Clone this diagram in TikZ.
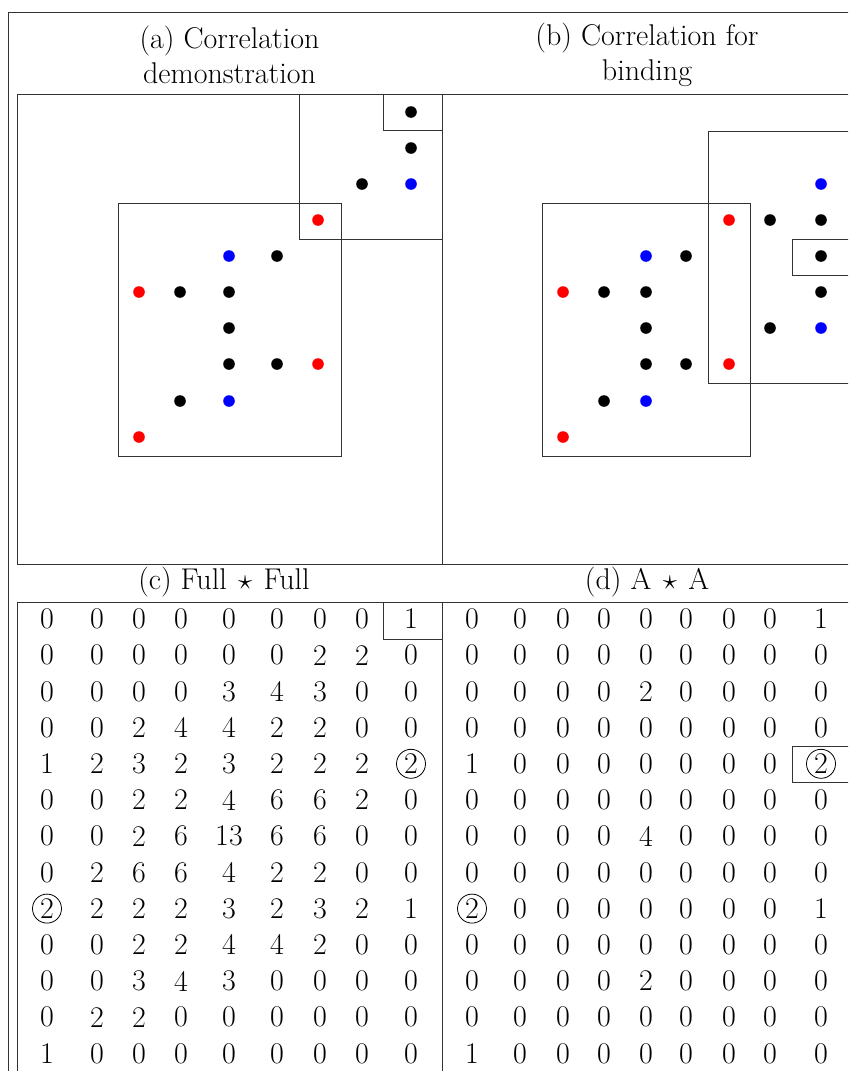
\documentclass[tikz,border=0pt]{standalone}
\usepackage{amssymb}
\usetikzlibrary{positioning}
\begin{document}
\begin{tikzpicture}[
        x=0.5pt, y=-0.5pt,
        font=\fontsize{15}{17.5}\selectfont,
        frm/.style={draw=black!80, line width=0.45pt},
        pnt/.style={circle, inner sep=0pt, minimum size=5.8pt},
        captxt/.style={align=center, inner sep=0pt},
        num/.style={inner sep=0pt},
        ring/.style={draw, circle, inner sep=0pt, minimum size=14.5pt}
    ]
    \clip (0,0) rectangle (848,1071);
    % frames
    \draw[frm] (8,1090) -- (8,12) -- (880,12);
    \draw[frm] (17,94) rectangle (880,564);
    \draw[frm] (442,94) -- (442,564);
    \draw[frm] (17,1090) -- (17,602) -- (880,602);
    \draw[frm] (442,602) -- (442,1090);
    % captions
    \node[captxt] (capA) at (229.5,55) {(a) Correlation\\demonstration};
    \node[captxt] (capB) at (647,55) {(b) Correlation for\\binding};
    \node[captxt] (capC) at (224,582) {(c) Full\,${}\star{}$\,Full};
    \node[captxt] (capD) at (647,582) {(d) A\,${}\star{}$\,A};
    % dots (a)
    \foreach \x/\y/\col [count=\i] in {411/112/black, 411/148/black, 362/184/black, 411/184/blue,
        318/220/red, 229/256/blue, 277/256/black, 139/292/red, 180/292/black, 229/292/black,
        229/328/black, 229/364/black, 277/364/black, 318/364/red, 180/401/black, 229/401/blue,
        139/437/red}
        \node[pnt, fill=\col] (a\i) at (\x,\y) {};
    \draw[frm] (118,203) rectangle (341,456);
    \draw[frm] (299,94) rectangle (442,239);
    \draw[frm] (383,94) rectangle (442,130);
    % dots (b)
    \foreach \x/\y/\col [count=\i] in {821/184/blue, 729/220/red, 770/220/black, 821/220/black,
        646/256/blue, 686/256/black, 821/256/black, 563/292/red, 604/292/black, 646/292/black,
        821/292/black, 646/328/black, 770/328/black, 821/328/blue, 646/364/black, 686/364/black,
        729/364/red, 604/401/black, 646/401/blue, 563/437/red}
        \node[pnt, fill=\col] (b\i) at (\x,\y) {};
    \draw[frm] (542,203) rectangle (750,456);
    \draw[frm] (708,131) rectangle (880,383);
    \draw[frm] (792,239) rectangle (880,275);
    % table (c)
    \foreach \row [count=\r] in {{0,0,0,0,0,0,0,0,1},{0,0,0,0,0,0,2,2,0},{0,0,0,0,3,4,3,0,0},
        {0,0,2,4,4,2,2,0,0},{1,2,3,2,3,2,2,2,2},{0,0,2,2,4,6,6,2,0},{0,0,2,6,13,6,6,0,0},
        {0,2,6,6,4,2,2,0,0},{2,2,2,2,3,2,3,2,1},{0,0,2,2,4,4,2,0,0},{0,0,3,4,3,0,0,0,0},
        {0,2,2,0,0,0,0,0,0},{1,0,0,0,0,0,0,0,0}}
        \foreach \v [count=\c] in \row {
            \pgfmathsetmacro{\xx}{{47,97,139,181,229,277,320,362,411}[\c-1]}
            \node[num] (c-\r-\c) at (\xx,{619+(\r-1)*36.2}) {\v};
        }
    % table (d)
    \foreach \row [count=\r] in {{0,0,0,0,0,0,0,0,1},{0,0,0,0,0,0,0,0,0},{0,0,0,0,2,0,0,0,0},
        {0,0,0,0,0,0,0,0,0},{1,0,0,0,0,0,0,0,2},{0,0,0,0,0,0,0,0,0},{0,0,0,0,4,0,0,0,0},
        {0,0,0,0,0,0,0,0,0},{2,0,0,0,0,0,0,0,1},{0,0,0,0,0,0,0,0,0},{0,0,0,0,2,0,0,0,0},
        {0,0,0,0,0,0,0,0,0},{1,0,0,0,0,0,0,0,0}}
        \foreach \v [count=\c] in \row {
            \pgfmathsetmacro{\xx}{{472,520,563,604,646,686,729,770,821}[\c-1]}
            \node[num] (d-\r-\c) at (\xx,{619+(\r-1)*36.2}) {\v};
        }
    \node[ring] (rc1) at (c-5-9) {};
    \node[ring] (rc2) at (c-9-1) {};
    \node[ring] (rd1) at (d-5-9) {};
    \node[ring] (rd2) at (d-9-1) {};
    \draw[frm] (383,602) rectangle (442,639);
    \draw[frm] (792,746) rectangle (880,782);
\end{tikzpicture}
\end{document}
